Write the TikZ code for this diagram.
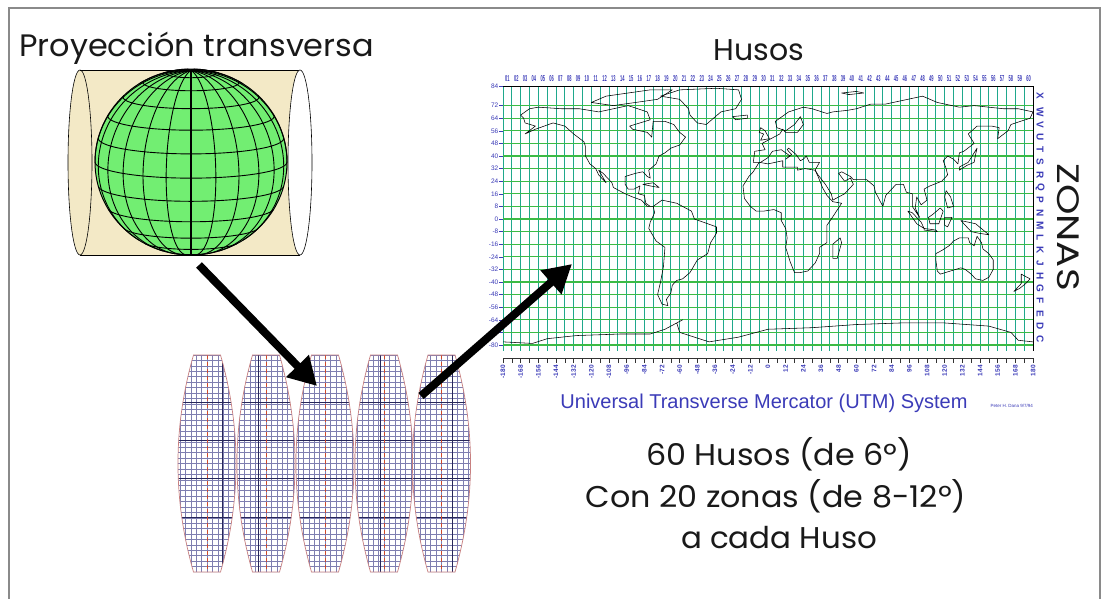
\documentclass[tikz,border=0pt]{standalone}
\usepackage{fontspec}
\setmainfont{Poppins}
\newfontfamily\mapfont{Liberation Sans}
\usetikzlibrary{arrows.meta}

\definecolor{framegray}{HTML}{8A8A8A}
\definecolor{cylbeige}{HTML}{F3E9C6}
\definecolor{globegreen}{HTML}{72EE72}
\definecolor{gridteal}{HTML}{1FA88C}
\definecolor{gridgreen}{HTML}{3CBB46}
\definecolor{mapblue}{HTML}{3B3BB8}
\definecolor{gorethin}{HTML}{7E7EB0}
\definecolor{goredark}{HTML}{27275A}
\definecolor{gorered}{HTML}{D04A2A}
\definecolor{goreedge}{HTML}{C88080}

\begin{document}
\begin{tikzpicture}[x=1pt,y=-1pt,
  globeline/.style={draw=black, line width=0.9pt},
  coast/.style={draw=black, line width=0.55pt, line join=round},
  vgrid/.style={draw=gridteal, line width=0.9pt},
  hgrid/.style={draw=gridgreen, line width=1.3pt},
  maplbl/.style={text=mapblue, inner sep=0pt, font=\mapfont\fontsize{6.5}{7}\selectfont},
  bigarrow/.style={line width=8pt, -{Triangle[length=28pt,width=30pt]}},
  thingrid/.style={draw=gorethin, line width=0.5pt},
  darkgrid/.style={draw=goredark, line width=0.9pt},
  midline/.style={draw=gorered, line width=0.7pt, dash pattern=on 4pt off 3pt},
  title/.style={inner sep=0pt, text=black!90},
  bigtext/.style={title, font=\fontsize{30}{34}\selectfont}]

\useasboundingbox (0,0) rectangle (1102,598);
\fill[white] (0,0) rectangle (1102,598);
\draw[framegray, line width=1.5pt] (9,600) -- (9,8) -- (1100,8) -- (1100,600);

% ---------- transverse projection: cylinder and globe ----------
\node[title, anchor=base west, font=\fontsize{31}{36}\selectfont] (tproj) at (19,56) {\scalebox{1.03}[1]{Proyección transversa}};

\fill[cylbeige] (80,70) rectangle (300,255);
\filldraw[fill=cylbeige, draw=black, line width=0.6pt] (80,162.5) ellipse [x radius=12, y radius=92.5];
\draw[line width=0.6pt] (80,70) -- (300,70) (80,255) -- (300,255);

\def\tilt{10}
\begin{scope}[shift={(191,162)}]
  \fill[globegreen] (0,0) ellipse [x radius=96, y radius=93];
  % parallels
  \foreach \la in {-75,-60,...,75} {
    \pgfmathsetmacro\gLmax{acos(-tan(\tilt)*tan(\la))}
    \draw[globeline] plot[domain=-\gLmax:\gLmax, samples=40, variable=\t, smooth]
      ({96*cos(\la)*sin(\t)}, {-93*(cos(\tilt)*sin(\la)-sin(\tilt)*cos(\la)*cos(\t))});
  }
  % meridians
  \foreach \lo in {15,30,...,345} {
    \pgfmathsetmacro\gPmin{-atan(cos(\lo)*cot(\tilt))}
    \draw[globeline] plot[domain=\gPmin:90, samples=40, variable=\p, smooth]
      ({96*cos(\p)*sin(\lo)}, {-93*(cos(\tilt)*sin(\p)-sin(\tilt)*cos(\p)*cos(\lo))});
  }
  \draw[globeline, line width=1.7pt] plot[domain=-90:90, samples=40, variable=\p, smooth]
      ({0}, {-93*(cos(\tilt)*sin(\p)-sin(\tilt)*cos(\p))});
  \draw[line width=1pt] (0,0) ellipse [x radius=96, y radius=93];
\end{scope}
\filldraw[fill=white, draw=black, line width=0.6pt] (300,162.5) ellipse [x radius=12, y radius=92.5];

% ---------- gores (lens-shaped strips) ----------
\def\goreoutline#1{({#1-13.5},355) -- ({#1+13.5},355)
      .. controls ({#1+34.2},427.3) and ({#1+34.2},499.7) .. ({#1+13.5},572)
      -- ({#1-13.5},572)
      .. controls ({#1-34.2},499.7) and ({#1-34.2},427.3) .. cycle}
\foreach \cx/\dv in {207/15, 266/-8, 325/99, 384/-4, 441.5/11} {
  \begin{scope}
    \clip \goreoutline{\cx};
    \fill[white] ({\cx-31},355) rectangle ({\cx+31},572);
    \foreach \k in {-6,...,6}
      \draw[thingrid] ({\cx+5.4*\k},355) -- ++(0,217);
    \foreach \k in {0,...,40}
      \draw[thingrid] ({\cx-31},{355+5.425*\k}) -- ++(62,0);
    \foreach \yy in {402,440,478,517}
      \draw[darkgrid] ({\cx-31},\yy) -- ++(62,0);
    \draw[darkgrid] ({\cx+\dv},355) -- ++(0,217);
    \draw[midline] (\cx,355) -- (\cx,572);
  \end{scope}
  \draw[goreedge, line width=0.7pt] \goreoutline{\cx};
}

% ---------- UTM map ----------
\node[bigtext, anchor=base] (husos) at (759,60) {Husos};

\begin{scope}[shift={(768,219)}, xscale=1.47222, yscale=-1.575]
  \fill[white] (-180,84) rectangle (180,-84);
  \foreach \lo in {-180,-174,...,180}
    \draw[vgrid] (\lo,84) -- (\lo,-84);
  \foreach \la in {84,72,64,56,48,40,32,24,16,8,0,-8,-16,-24,-32,-40,-48,-56,-64,-72,-80}
    \draw[hgrid] (-180,\la) -- (180,\la);
  \draw[black, line width=0.6pt] (-180,84) -- (180,84) -- (180,-84);

  % coastlines
  \draw[coast] (-168,66) -- (-162,70) -- (-156,71) -- (-140,70) -- (-128,70) -- (-115,68) -- (-95,72) -- (-82,68) -- (-80,63) -- (-94,59) -- (-92,57) -- (-82,55) -- (-79,52) -- (-78,62) -- (-70,62) -- (-64,60) -- (-60,55) -- (-56,52) -- (-60,47) -- (-66,45) -- (-70,42) -- (-74,40) -- (-76,35) -- (-81,31) -- (-80,26) -- (-82,27) -- (-85,30) -- (-90,29) -- (-97,27) -- (-97,22) -- (-95,19) -- (-91,19) -- (-87,21) -- (-88,16) -- (-84,15) -- (-83,10) -- (-80,8) -- (-78,8) -- (-82,8) -- (-86,12) -- (-92,14) -- (-97,16) -- (-105,20) -- (-106,23) -- (-112,29) -- (-115,31) -- (-110,23) -- (-115,28) -- (-117,32) -- (-121,35) -- (-124,40) -- (-124,46) -- (-125,49) -- (-132,54) -- (-138,59) -- (-146,61) -- (-152,59) -- (-158,57) -- (-165,54) -- (-158,59) -- (-165,61) -- (-166,64) -- cycle;
  \draw[coast] (-120,74) -- (-110,78) -- (-95,80) -- (-80,82) -- (-65,82) -- (-75,76) -- (-90,74) -- (-105,72) -- cycle;
  \draw[coast] (-73,78) -- (-60,82) -- (-35,83) -- (-20,82) -- (-18,76) -- (-22,70) -- (-32,68) -- (-42,60) -- (-48,61) -- (-53,66) -- (-54,70) -- (-60,76) -- cycle;
  \draw[coast] (-24,65) -- (-14,66) -- (-14,64) -- (-22,63) -- cycle;
  \draw[coast] (-78,8) -- (-72,12) -- (-62,10) -- (-52,5) -- (-50,0) -- (-44,-2) -- (-35,-5) -- (-35,-9) -- (-39,-15) -- (-41,-22) -- (-48,-26) -- (-53,-34) -- (-58,-38) -- (-62,-39) -- (-65,-42) -- (-66,-47) -- (-69,-51) -- (-68,-55) -- (-72,-54) -- (-75,-48) -- (-73,-40) -- (-71,-30) -- (-70,-18) -- (-76,-14) -- (-81,-6) -- (-80,-2) -- (-77,4) -- cycle;
  \draw[coast] (-85,22) -- (-78,23) -- (-74,20) -- (-80,21) -- cycle;
  \draw[coast] (-10,36) -- (-9,43) -- (-2,44) -- (-4,48) -- (2,51) -- (8,54) -- (10,57) -- (12,55) -- (20,55) -- (24,60) -- (22,65) -- (18,60) -- (12,56) -- (6,58) -- (5,62) -- (14,68) -- (24,71) -- (30,70) -- (40,67) -- (44,68) -- (54,69) -- (60,70) -- (70,73) -- (80,73) -- (90,75) -- (105,78) -- (115,74) -- (130,71) -- (140,72) -- (160,70) -- (170,70) -- (180,68) -- (178,64) -- (165,60) -- (163,56) -- (156,51) -- (157,58) -- (152,59) -- (142,59) -- (136,54) -- (140,48) -- (133,43) -- (130,42) -- (129,35) -- (126,38) -- (122,40) -- (119,37) -- (121,32) -- (122,28) -- (118,24) -- (110,21) -- (106,19) -- (108,12) -- (104,9) -- (101,14) -- (100,7) -- (103,1) -- (98,8) -- (98,16) -- (94,17) -- (92,22) -- (87,22) -- (80,15) -- (78,8) -- (73,17) -- (72,21) -- (67,25) -- (58,25) -- (56,27) -- (50,30) -- (48,29) -- (52,24) -- (56,26) -- (58,22) -- (52,16) -- (44,12) -- (43,16) -- (39,22) -- (34,28) -- (32,31) -- (35,36) -- (28,36) -- (26,40) -- (24,38) -- (22,37) -- (19,41) -- (14,45) -- (13,44) -- (16,41) -- (12,38) -- (15,40) -- (12,42) -- (9,44) -- (3,43) -- (0,39) -- (-5,36) -- cycle;
  \draw[coast] (-5,50) -- (1,51) -- (-2,56) -- (-5,58) -- (-6,55) -- (-3,54) -- cycle;
  \draw[coast] (50,80) -- (60,81) -- (65,80) -- (55,79) -- cycle;
  \draw[coast] (-17,21) -- (-16,13) -- (-12,8) -- (-8,5) -- (-3,5) -- (4,6) -- (9,4) -- (9,-1) -- (12,-6) -- (13,-12) -- (12,-18) -- (15,-27) -- (18,-34) -- (22,-34) -- (27,-33) -- (32,-28) -- (35,-22) -- (35,-18) -- (40,-15) -- (40,-10) -- (40,-4) -- (43,0) -- (50,10) -- (44,11) -- (40,15) -- (37,20) -- (34,27) -- (32,31) -- (25,32) -- (20,31) -- (20,33) -- (10,33) -- (10,37) -- (0,35) -- (-6,36) -- (-10,30) -- (-13,27) -- cycle;
  \draw[coast] (44,-25) -- (47,-25) -- (50,-15) -- (49,-12) -- (44,-16) -- cycle;
  \draw[coast] (114,-22) -- (118,-20) -- (123,-17) -- (126,-14) -- (130,-12) -- (136,-12) -- (137,-15) -- (140,-17) -- (142,-11) -- (145,-15) -- (146,-19) -- (150,-22) -- (153,-26) -- (153,-32) -- (150,-37) -- (146,-39) -- (141,-38) -- (138,-35) -- (134,-32) -- (131,-31) -- (124,-33) -- (117,-35) -- (115,-33) -- (114,-26) -- cycle;
  \draw[coast] (130,31) -- (135,34) -- (140,36) -- (141,41) -- (142,45) -- (140,42) -- (136,36) -- (130,33) -- cycle;
  \draw[coast] (109,1) -- (112,3) -- (117,7) -- (119,5) -- (116,-3) -- (110,-3) -- cycle;
  \draw[coast] (95,5) -- (98,4) -- (104,-2) -- (106,-6) -- (101,-3) -- cycle;
  \draw[coast] (106,-6) -- (114,-7) -- (115,-8) -- (106,-7) -- cycle;
  \draw[coast] (120,1) -- (125,1) -- (122,-5) -- (120,-4) -- cycle;
  \draw[coast] (131,-1) -- (141,-3) -- (150,-10) -- (143,-9) -- (138,-8) -- cycle;
  \draw[coast] (121,18) -- (124,14) -- (126,8) -- (122,7) -- (120,14) -- cycle;
  \draw[coast] (172,-35) -- (178,-38) -- (175,-41) -- (171,-44) -- (167,-46) -- (172,-41) -- cycle;
  \draw[coast] (-180,-78) -- (-160,-79) -- (-150,-76) -- (-130,-74) -- (-100,-73) -- (-80,-73) -- (-70,-70) -- (-58,-64) -- (-62,-66) -- (-60,-72) -- (-40,-78) -- (-20,-75) -- (0,-70) -- (30,-69) -- (60,-67) -- (90,-66) -- (120,-66) -- (150,-68) -- (165,-72) -- (170,-77) -- (180,-78);
\end{scope}

% latitude labels
\foreach \la in {84,72,64,56,48,40,32,24,16,8,0,-8,-16,-24,-32,-40,-48,-56,-64,-72,-80} {
  \draw[mapblue, line width=0.5pt] (499,{219-1.575*\la}) -- (503,{219-1.575*\la});
  \node[maplbl, anchor=east] at (498.5,{219-1.575*\la}) {\la};
}
% zone numbers
\foreach \k in {1,...,60}
  \node[maplbl, anchor=base, font=\mapfont\bfseries\fontsize{8.5}{9}\selectfont] at ({503+(\k-0.5)*8.8333},81) {\scalebox{0.47}[1]{\ifnum\k<10 0\fi\k}};
% band letters
\foreach \ch [count=\i from 0] in {C,D,E,F,G,H,J,K,L,M,N,P,Q,R,S,T,U,V,W}
  \node[maplbl, rotate=-90, font=\mapfont\bfseries\fontsize{10}{11}\selectfont] at (1040,{219-1.575*(-76+8*\i)}) {\ch};
\node[maplbl, rotate=-90, font=\mapfont\bfseries\fontsize{10}{11}\selectfont] at (1040,{219-1.575*78}) {X};
\node[title, rotate=-90, font=\fontsize{31}{34}\selectfont] (zonas) at (1068,227) {\scalebox{1.25}[1]{ZONAS}};
% longitude axis
\draw[black!80, line width=0.5pt] (503,358) -- (1033,358);
\foreach \k in {0,...,60}
  \draw[black!80, line width=0.5pt] ({503+\k*8.8333},358) -- ++(0,5);
\foreach \k in {0,...,30} {
  \pgfmathtruncatemacro\lon{-180+12*\k}
  \node[maplbl, rotate=90, anchor=east, font=\mapfont\bfseries\fontsize{6.5}{7}\selectfont] at ({503+\k*17.6667},365) {\lon};
}
\node[text=mapblue, anchor=base, inner sep=0pt, font=\mapfont\fontsize{20}{24}\selectfont] (utm) at (764,408) {Universal Transverse Mercator (UTM) System};
\node[maplbl, anchor=base east, font=\mapfont\fontsize{4.5}{5}\selectfont] (credit) at (1033,407) {Peter H. Dana 9/7/94};

% ---------- summary text ----------
\node[bigtext, anchor=base] (l1) at (779,465) {\scalebox{1.06}[1]{60 Husos (de 6º)}};
\node[bigtext, anchor=base] (l2) at (776,507) {\scalebox{1.06}[1]{Con 20 zonas (de 8-12º)}};
\node[bigtext, anchor=base] (l3) at (779,548) {\scalebox{1.03}[1]{a cada Huso}};

% ---------- arrows ----------
\coordinate (cylout) at (199,265);
\coordinate (gorein) at (317,386);
\coordinate (goreout) at (421,396);
\coordinate (mapin) at (572,264);
\draw[bigarrow] (cylout) -- (gorein);
\draw[bigarrow] (goreout) -- (mapin);
\end{tikzpicture}
\end{document}
